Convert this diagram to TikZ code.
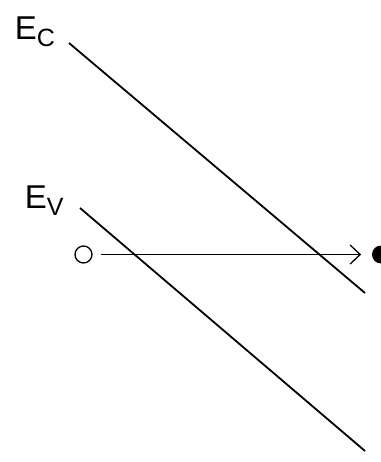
\documentclass[tikz,border=0pt]{standalone}
\usepackage{fontspec}
\setmainfont{Liberation Sans}
\usetikzlibrary{arrows.meta,positioning}

\begin{document}
\begin{tikzpicture}[x=1pt,y=-1pt,line width=1.8pt,>={Straight Barb[length=10pt,width=19pt,line width=1.3pt]},
  lbl/.style={anchor=base west,inner sep=0pt,font=\fontsize{33}{36}\selectfont},
  hole/.style={circle,draw,line width=1.3pt,minimum size=17pt,inner sep=0pt},
  elec/.style={circle,fill,minimum size=18pt,inner sep=0pt}]
\useasboundingbox (0,0) rectangle (380,462);
\coordinate (ec1) at (69,43); \coordinate (ec2) at (365,293);
\coordinate (ev1) at (80,208); \coordinate (ev2) at (365,451);
\node[lbl] (ec) at (14,40) {E\raisebox{-7pt}{\fontsize{25}{27}\selectfont C}};
\node[lbl] (ev) at (24,208) {E\raisebox{-7pt}{\fontsize{25}{27}\selectfont V}};
\node[hole] (h) at (83.5,254.5) {};
\node[elec] (e) at (381,254.5) {};
\draw (ec1) -- (ec2);
\draw (ev1) -- (ev2);
\draw[->,line width=1.3pt,shorten <=8pt,shorten >=10pt] (h) -- (e);
\end{tikzpicture}
\end{document}
